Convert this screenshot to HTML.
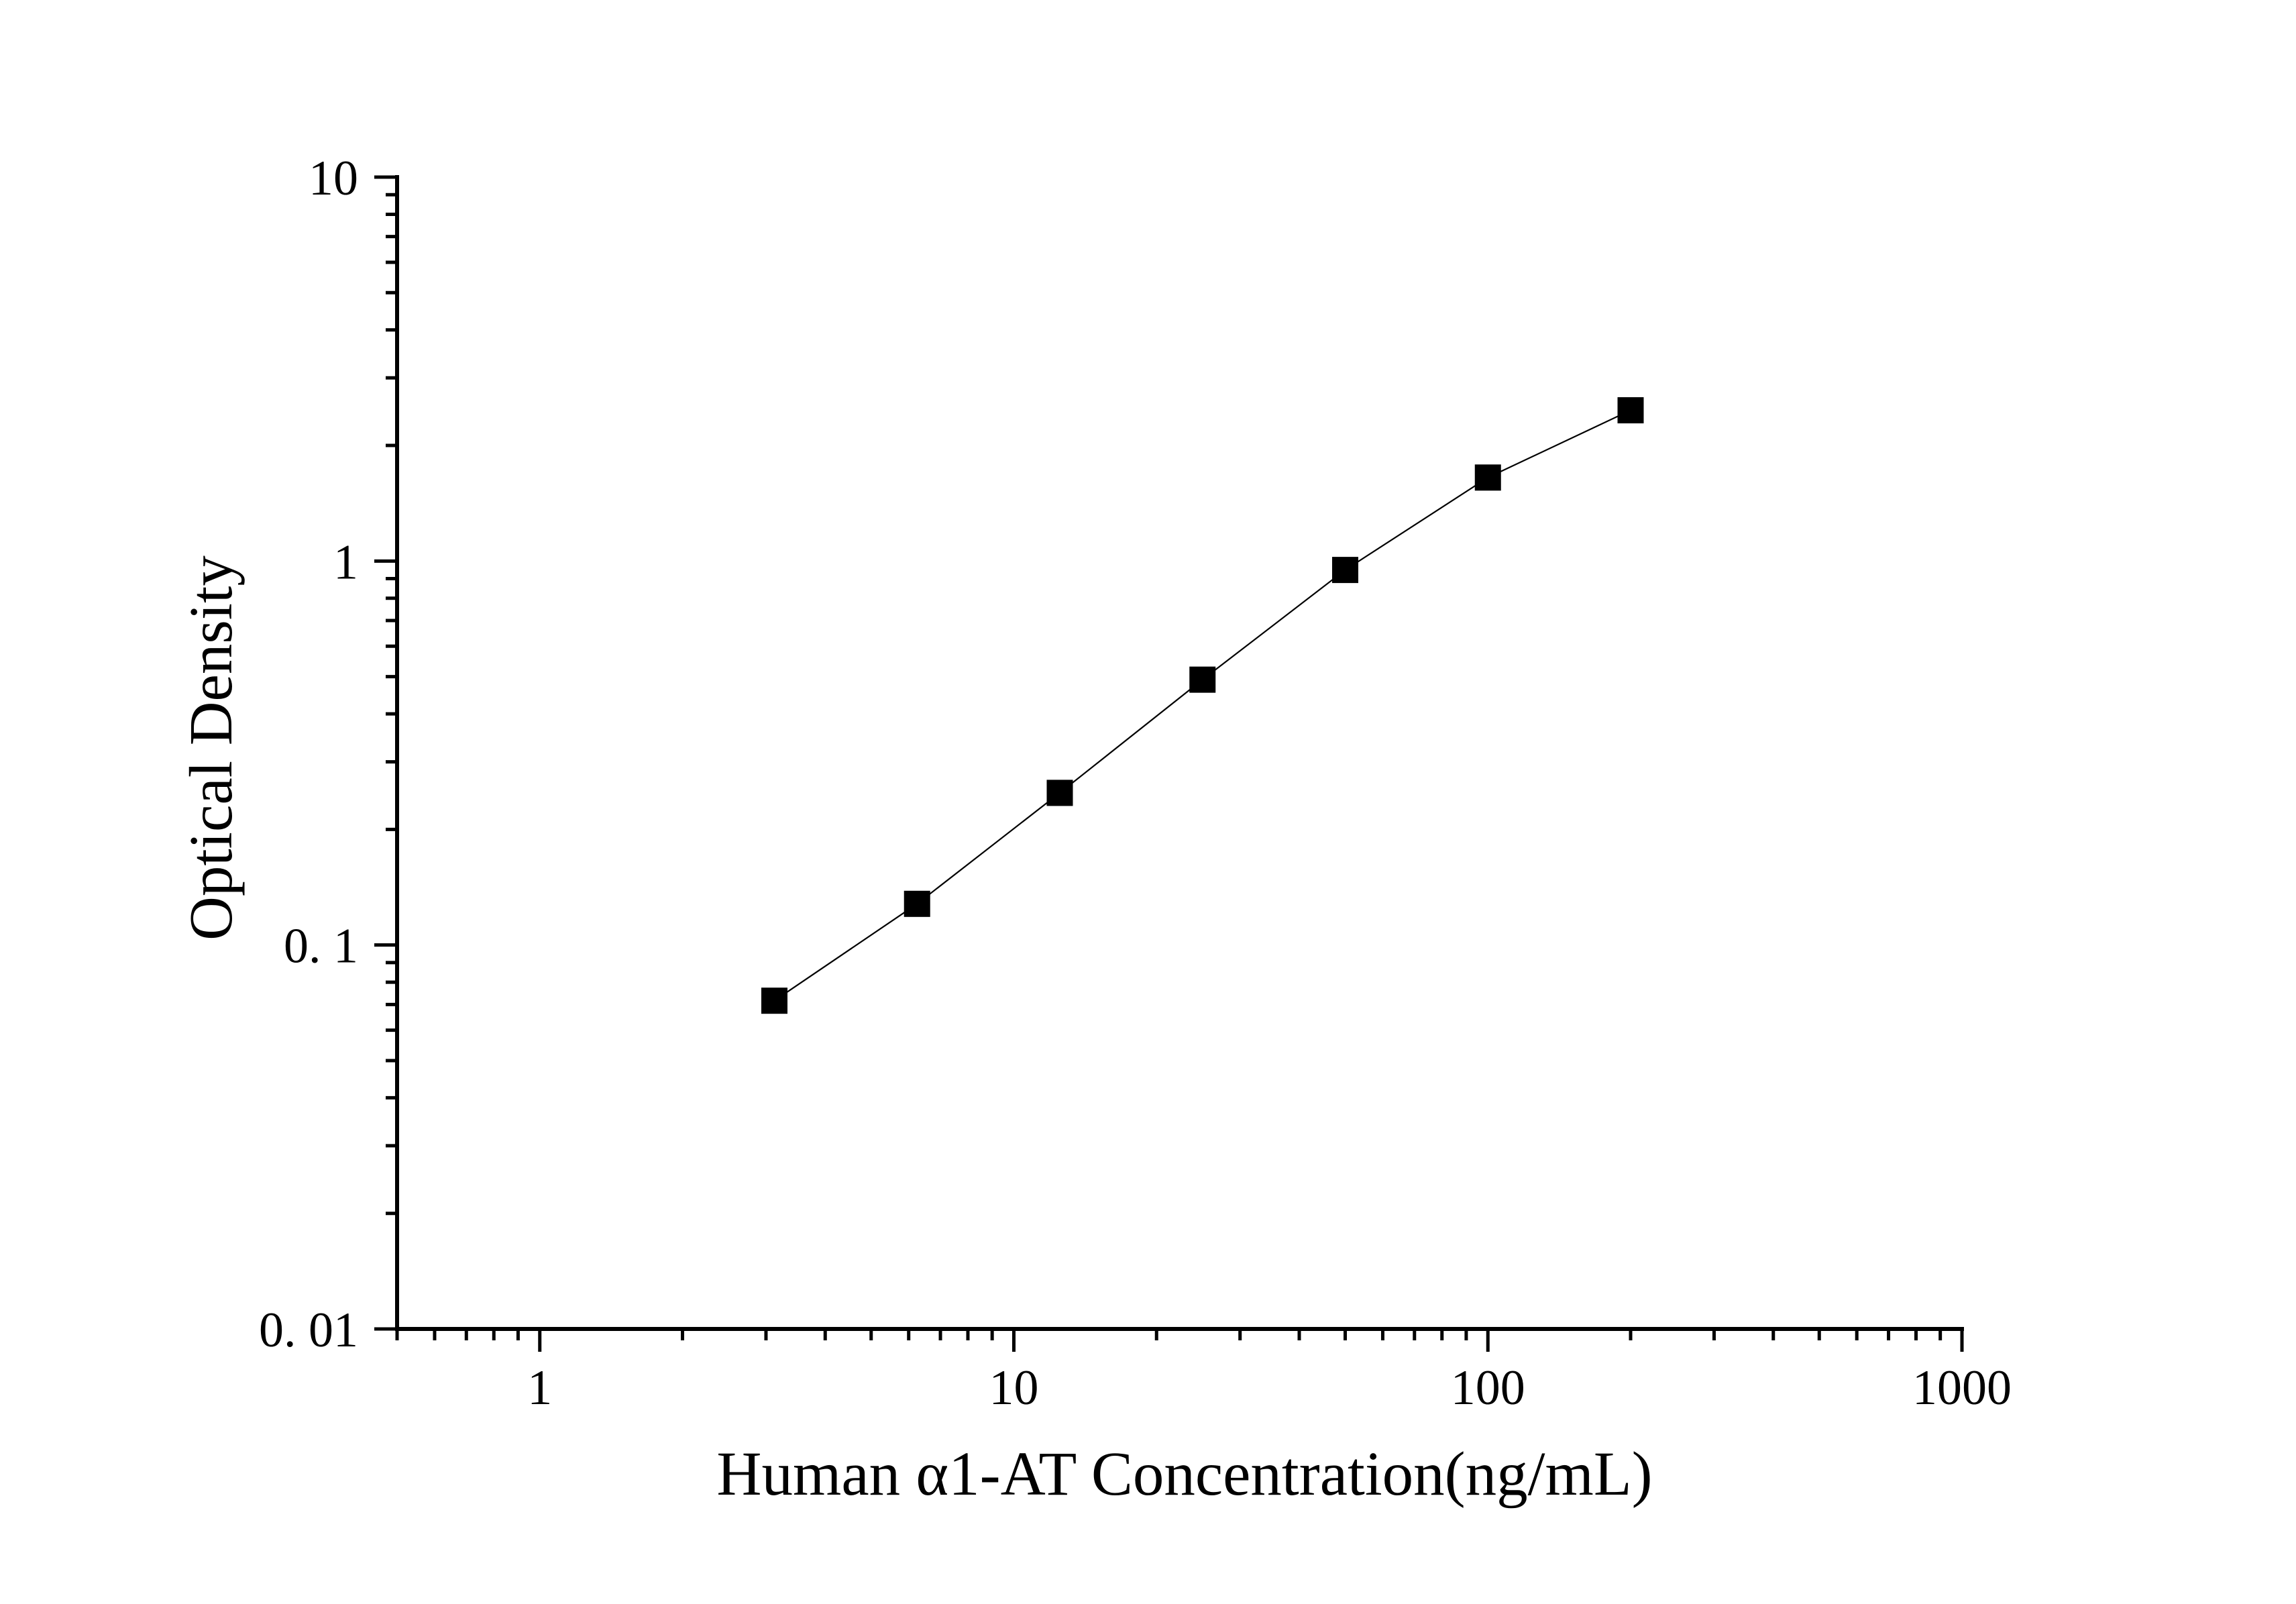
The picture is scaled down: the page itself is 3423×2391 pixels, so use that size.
<!DOCTYPE html>
<html><head><meta charset="utf-8"><style>
html,body{margin:0;padding:0;background:#fff;}
svg{display:block;font-family:"Liberation Serif",serif;}
</style></head><body>
<svg id="chart" width="3423" height="2391" viewBox="0 0 3423 2391" xmlns="http://www.w3.org/2000/svg">
<rect width="3423" height="2391" fill="#fff"/>
<g id="axes"></g>
<path id="curve" fill="none" stroke="#000" stroke-width="2.2"/>
<g id="marks"></g>
<text x="1766" y="2228" font-size="93" text-anchor="middle">Human α1-AT Concentration(ng/mL)</text>
<text transform="translate(345,1115) rotate(-90)" font-size="91" text-anchor="middle">Optical Density</text>
</svg>
<script>
const concentrations = [3.125, 6.25, 12.5, 25, 50, 100, 200];
const densities = [0.0716, 0.128, 0.249, 0.491, 0.948, 1.65, 2.47];
const xTicks = [1, 10, 100, 1000];
const xTickLabels = ["1", "10", "100", "1000"];
const yTicks = [0.01, 0.1, 1, 10];
const yTickLabels = ["0. 01", "0. 1", "1", "10"];

const X0=592, X1=2925, XMIN=Math.log10(0.5), XMAX=3;
const Y0=1981, Y1=264, YMIN=-2, YMAX=1;
const sx=v=>X0+(Math.log10(v)-XMIN)/(XMAX-XMIN)*(X1-X0);
const sy=v=>Y0-(Math.log10(v)-YMIN)/(YMAX-YMIN)*(Y0-Y1);
const NS='http://www.w3.org/2000/svg';
const axes=document.getElementById('axes');
function mk(tag,attrs,parent){const e=document.createElementNS(NS,tag);for(const k in attrs)e.setAttribute(k,attrs[k]);parent.appendChild(e);return e;}

let e=mk('line',{x1:X0,y1:Y0,x2:X1+3,y2:Y0,stroke:'#000','stroke-width':6},axes);


e=mk('line',{x1:X0,y1:Y0+3,x2:X0,y2:Y1-3,stroke:'#000','stroke-width':6},axes);



for(let d=-1;d<3;d++){for(let m=1;m<10;m++){const v=m*Math.pow(10,d);if(v<0.5)continue;
 const major=m===1;const t=mk('line',{x1:sx(v),x2:sx(v),y1:Y0,y2:Y0+(major?34:17),stroke:'#000','stroke-width':5},axes);
 
 }}
{const t=mk('line',{x1:sx(1000),x2:sx(1000),y1:Y0,y2:Y0+34,stroke:'#000','stroke-width':5},axes);
 
 }
{const t=mk('line',{x1:X0,x2:X0,y1:Y0,y2:Y0+17,stroke:'#000','stroke-width':5},axes);
 
 }
xTicks.forEach((v,i)=>{const t=mk('text',{x:sx(v),y:Y0+112,'font-size':74,'text-anchor':'middle'},axes);t.textContent=xTickLabels[i];
 
 });

for(let d=-2;d<1;d++){for(let m=1;m<10;m++){const v=m*Math.pow(10,d);const major=m===1;
 const t=mk('line',{x1:X0,x2:X0-(major?34:17),y1:sy(v),y2:sy(v),stroke:'#000','stroke-width':5},axes);
 
 }}
{const t=mk('line',{x1:X0,x2:X0-34,y1:sy(10),y2:sy(10),stroke:'#000','stroke-width':5},axes);
 
 }
yTicks.forEach((v,i)=>{const t=mk('text',{x:X0-58,y:sy(v)+26,'font-size':74,'text-anchor':'end'},axes);t.textContent=yTickLabels[i];
 
 });

document.getElementById('curve').setAttribute('d',concentrations.map((c,i)=>(i?'L':'M')+sx(c)+','+sy(densities[i])).join(' '));
const marks=document.getElementById('marks');
concentrations.forEach((c,i)=>{const s=39;const r=mk('rect',{x:sx(c)-s/2,y:sy(densities[i])-s/2,width:s,height:s,fill:'#000'},marks);
 
 });
</script>
</body></html>
